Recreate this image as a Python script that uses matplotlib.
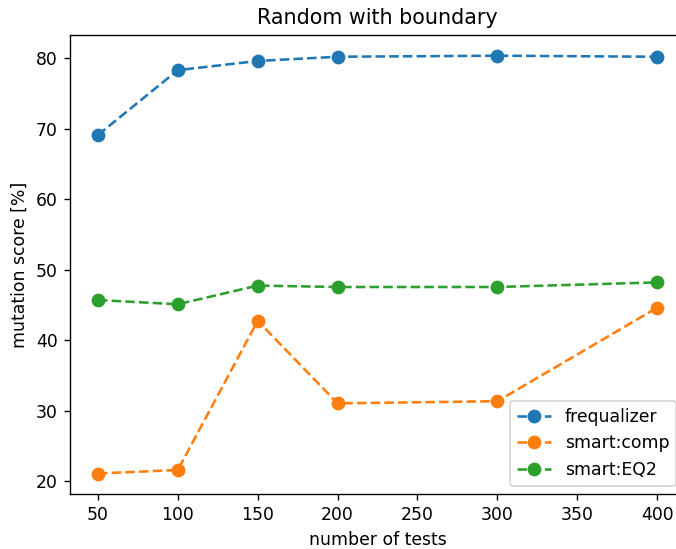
import matplotlib
matplotlib.use("Agg")
import matplotlib.pyplot as plt

tests = [50, 100, 150, 200, 300, 400]
frequalizer = [69.1, 78.3, 79.6, 80.2, 80.35, 80.2]
smart_comp = [21.1, 21.6, 42.75, 31.05, 31.35, 44.6]
smart_eq2 = [45.7, 45.1, 47.75, 47.55, 47.55, 48.2]

DPI = 124
fig = plt.figure(figsize=(676/DPI, 549/DPI), dpi=DPI)
ax = fig.add_axes([70/676, (549-494.4)/549, 615/676, 459.6/549])
ax.plot(tests, frequalizer, 'o--', markersize=7, label='frequalizer')
ax.plot(tests, smart_comp, 'o--', markersize=7, label='smart:comp')
ax.plot(tests, smart_eq2, 'o--', markersize=7, label='smart:EQ2')
ax.set_title('Random with boundary')
ax.set_xlabel('number of tests')
ax.set_ylabel('mutation score [%]')
ax.legend(loc='lower right')
fig.savefig('out.png', dpi=DPI)
